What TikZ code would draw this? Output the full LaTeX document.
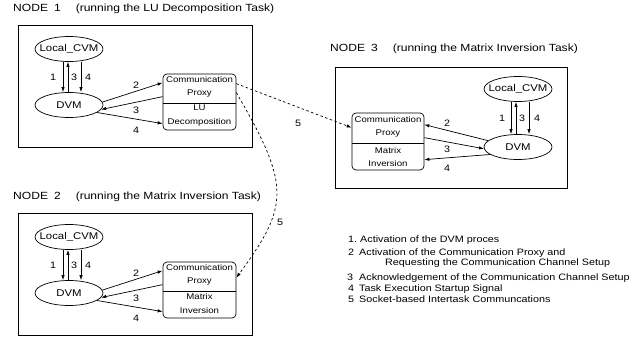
\documentclass[tikz,border=0pt]{standalone}
\usepackage{fontspec}
\setmainfont{Liberation Sans}[FakeStretch=1.16]
\usetikzlibrary{arrows.meta,calc,shapes.geometric}
\begin{document}
\begin{tikzpicture}[x=1pt,y=-1pt,
  >={Latex[length=5pt,width=3.4pt]},
  frame/.style={draw, line width=0.8pt, inner sep=0pt},
  ell/.style={draw, ellipse, line width=0.7pt, minimum width=68pt, minimum height=25pt, inner sep=0pt, font=\fontsize{9.8}{11}\selectfont},
  proxy/.style={draw, rounded corners=4pt, line width=0.7pt, minimum width=73pt, minimum height=56pt, inner sep=0pt},
  ptext/.style={align=center, inner sep=0pt, font=\fontsize{8.3}{13.5}\selectfont},
  lab/.style={inner sep=0pt, font=\fontsize{9.3}{11}\selectfont},
  ttl/.style={anchor=base west, inner sep=0pt, font=\fontsize{10.4}{12}\selectfont},
  leg/.style={anchor=base west, inner sep=0pt, font=\fontsize{9.3}{11}\selectfont},
  conn/.style={->, line width=0.7pt},
  link/.style={->, dash pattern=on 2.5pt off 2.5pt, line width=0.7pt}]
\useasboundingbox (0,0) rectangle (636,340);

% ---------- titles
\node[ttl] (T1) at (13,11.7) {NODE\hspace{6pt}1\hspace{15pt}(running the LU Decomposition Task)};
\node[ttl] (T2) at (13,199.7) {NODE\hspace{6pt}2\hspace{15pt}(running the Matrix Inversion Task)};
\node[ttl] (T3) at (330,51.7) {NODE\hspace{6pt}3\hspace{15pt}(running the Matrix Inversion Task)};

% ---------- frames
\node[frame, minimum width=234pt, minimum height=122pt] (B1) at (135,86) {};
\node[frame, minimum width=234pt, minimum height=122pt] (B2) at (135,274) {};
\node[frame, minimum width=232pt, minimum height=121pt] (B3) at (451,127.5) {};

% ---------- NODE 1
\node[ell] (L1) at (69,49) {\makebox[0pt]{Local\_CVM}};
\node[ell] (D1) at (69,105) {\makebox[0pt]{DVM}};
\node[proxy] (P1) at (199.5,102) {};
\draw[line width=0.7pt] (P1.west |- 0,103) -- (P1.east |- 0,103);
\node[ptext] (P1a) at (199.5,87) {Communication\\Proxy};
\node[ptext] (P1b) at (199.5,115.5) {LU\\Decomposition};

\draw[conn] ($(L1.south)+(-6,0)$) -- ($(D1.north)+(-6,0)$);
\draw[conn] ($(D1.north)+(-1,0)$) -- ($(L1.south)+(-1,0)$);
\draw[conn] ($(L1.south)+(12,0)$) -- ($(D1.north)+(12,0)$);
\node[lab] (n1a) at (53,77) {1};
\node[lab] (n1b) at (74,77) {3};
\node[lab] (n1c) at (88,77) {4};

\draw[conn] (D1.5) -- ($(P1.north west)+(0,9)$);
\draw[conn] ($(P1.north west)+(0,23)$) -- (D1.-8);
\draw[conn] (D1.-15) -- ($(P1.north west)+(0,50)$);
\node[lab] (m1a) at (136,85) {2};
\node[lab] (m1b) at (136,110) {3};
\node[lab] (m1c) at (136,130) {4};

% ---------- NODE 2
\node[ell] (L2) at (69,237) {\makebox[0pt]{Local\_CVM}};
\node[ell] (D2) at (69,293) {\makebox[0pt]{DVM}};
\node[proxy] (P2) at (199.5,290) {};
\draw[line width=0.7pt] (P2.west |- 0,291) -- (P2.east |- 0,291);
\node[ptext] (P2a) at (199.5,275) {Communication\\Proxy};
\node[ptext] (P2b) at (199.5,303.5) {Matrix\\Inversion};

\draw[conn] ($(L2.south)+(-6,0)$) -- ($(D2.north)+(-6,0)$);
\draw[conn] ($(D2.north)+(-1,0)$) -- ($(L2.south)+(-1,0)$);
\draw[conn] ($(L2.south)+(12,0)$) -- ($(D2.north)+(12,0)$);
\node[lab] (n2a) at (53,265) {1};
\node[lab] (n2b) at (74,265) {3};
\node[lab] (n2c) at (88,265) {4};

\draw[conn] (D2.5) -- ($(P2.north west)+(0,9)$);
\draw[conn] ($(P2.north west)+(0,23)$) -- (D2.-8);
\draw[conn] (D2.-15) -- ($(P2.north west)+(0,50)$);
\node[lab] (m2a) at (136,273) {2};
\node[lab] (m2b) at (136,298) {3};
\node[lab] (m2c) at (136,318) {4};

% ---------- NODE 3
\node[ell] (L3) at (518,89) {\makebox[0pt]{Local\_CVM}};
\node[ell] (D3) at (518,147) {\makebox[0pt]{DVM}};
\node[proxy, minimum width=72pt, minimum height=57pt] (P3) at (388,141.5) {};
\draw[line width=0.7pt] (P3.west |- 0,143) -- (P3.east |- 0,143);
\node[ptext] (P3a) at (388,127) {Communication\\Proxy};
\node[ptext] (P3b) at (388,157) {Matrix\\Inversion};

\draw[conn] ($(L3.south)+(-7,0)$) -- ($(D3.north)+(-7,0)$);
\draw[conn] ($(D3.north)+(-2,0)$) -- ($(L3.south)+(-2,0)$);
\draw[conn] ($(L3.south)+(11,0)$) -- ($(D3.north)+(11,0)$);
\node[lab] (n3a) at (502,118) {1};
\node[lab] (n3b) at (522,118) {3};
\node[lab] (n3c) at (537,118) {4};

\draw[conn] (D3.168) -- ($(P3.north east)+(0,12)$);
\draw[conn] ($(P3.north east)+(0,25)$) -- (D3.183);
\draw[conn] (D3.195) -- ($(P3.north east)+(0,47)$);
\node[lab] (m3a) at (447,123) {2};
\node[lab] (m3b) at (447,149) {3};
\node[lab] (m3c) at (447,168) {4};

% ---------- inter-node links
\draw[link] ($(P1.north east)+(0,10)$) -- ($(P3.north west)+(0,15)$);
\node[lab] (k1) at (298,123) {5};
\draw[link] ($(P1.north east)+(0,19)$) .. controls (290,185) and (290,205) .. ($(P2.north east)+(0,16)$);
\node[lab] (k2) at (280,222) {5};

% ---------- legend
\node[leg] (g1) at (348,242.5) {1.\ Activation of the DVM proces};
\node[leg] (g2) at (348,255.5) {2\hspace{5pt}Activation of the Communication Proxy and};
\node[leg] (g2b) at (385,265.5) {Requesting the Communication Channel Setup};
\node[leg] (g3) at (347,280.5) {3\hspace{6pt}Acknowledgement of the Communication Channel Setup};
\node[leg] (g4) at (348,291) {4\hspace{5pt}Task Execution Startup Signal};
\node[leg] (g5) at (348,302) {5\hspace{5pt}Socket-based Intertask Communcations};
\end{tikzpicture}
\end{document}
